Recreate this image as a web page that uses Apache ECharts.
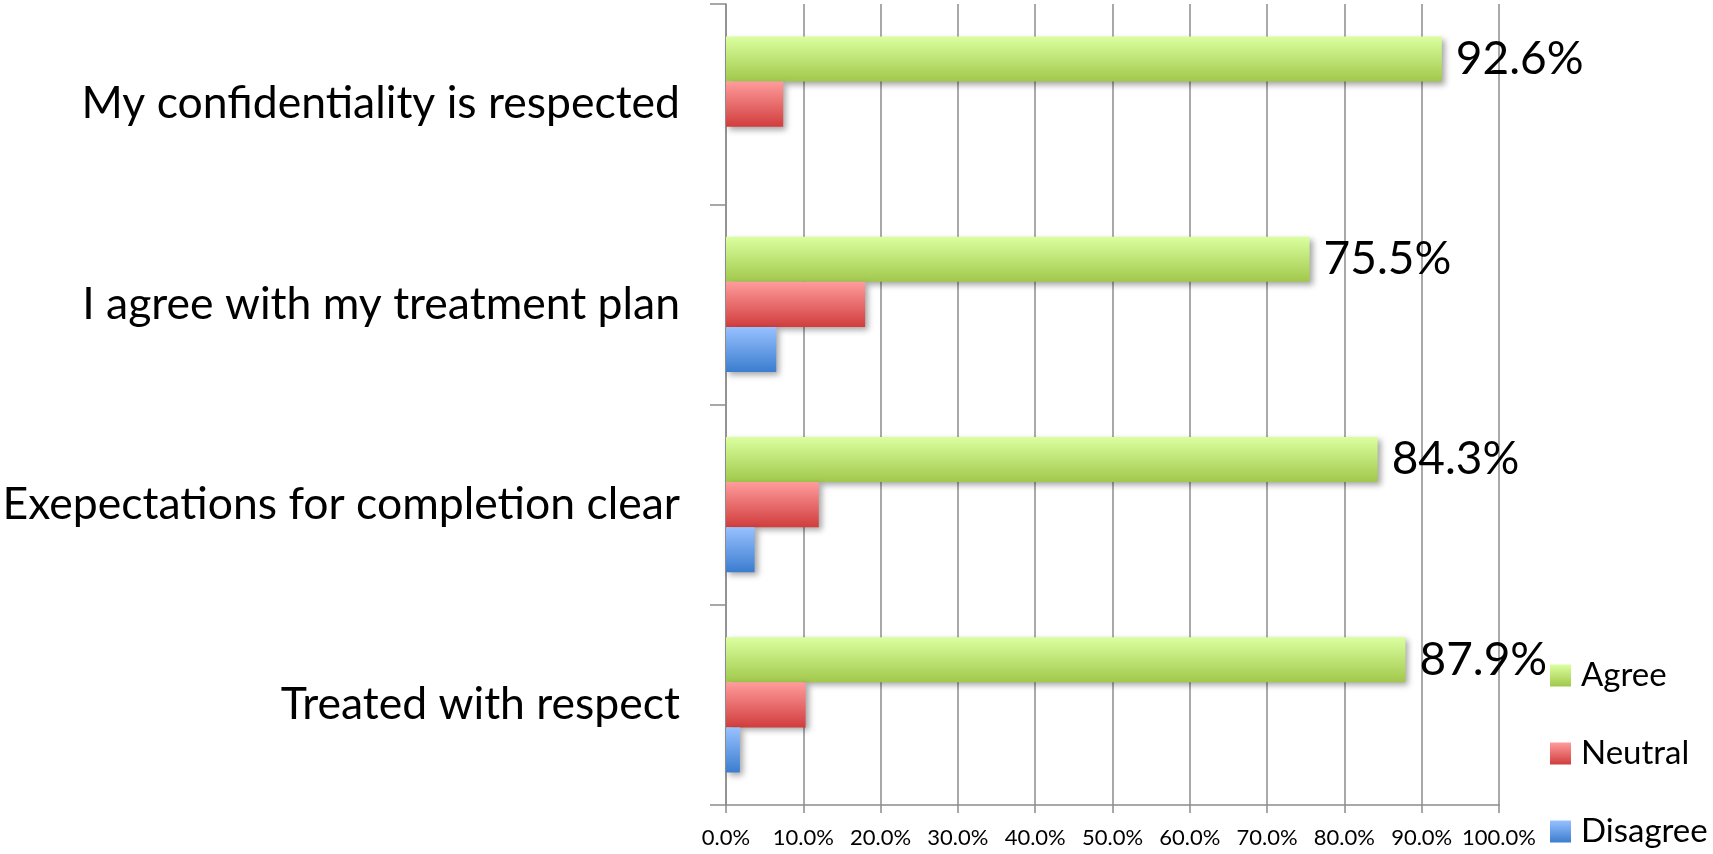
<!DOCTYPE html>
<html>
<head>
<meta charset="utf-8">
<script src="https://cdn.jsdelivr.net/npm/echarts@6/dist/echarts.min.js"></script>
<style>
html,body{margin:0;padding:0;background:#fff;}
#chart{width:1713px;height:854px;}
</style>
</head>
<body>
<div id="chart"></div>
<script>
const categories = ['Treated with respect', 'Exepectations for completion clear', 'I agree with my treatment plan', 'My confidentiality is respected'];
const agree = [87.9, 84.3, 75.5, 92.6];
const neutral = [10.3, 12.0, 18.0, 7.4];
const disagree = [1.8, 3.7, 6.5, 0];
const xTicks = [0, 10, 20, 30, 40, 50, 60, 70, 80, 90, 100];
const legendNames = ['Agree', 'Neutral', 'Disagree'];

const FONT = 'Lato';
function grad(top, bottom) {
  return new echarts.graphic.LinearGradient(0, 0, 0, 1, [
    {offset: 0, color: top}, {offset: 1, color: bottom}
  ]);
}
const shadow = {shadowBlur: 6, shadowOffsetX: 3, shadowOffsetY: 3, shadowColor: 'rgba(0,0,0,0.35)'};

const chart = echarts.init(document.getElementById('chart'));
chart.setOption({
  animation: false,
  backgroundColor: '#fff',
  textStyle: {fontFamily: FONT, color: '#000'},
  grid: {left: 726, right: 214, top: 4, bottom: 49, containLabel: false, outerBoundsMode: 'none'},
  legend: {
    data: legendNames,
    orient: 'vertical',
    left: 1550,
    top: 659,
    height: 195,
    padding: 0,
    icon: 'rect',
    itemWidth: 21,
    itemHeight: 22,
    itemGap: 45,
    textStyle: {fontFamily: FONT, fontSize: 33, color: '#000', padding: [0, 0, 0, 5]}
  },
  xAxis: {
    type: 'value',
    min: xTicks[0],
    max: xTicks[xTicks.length - 1],
    interval: 10,
    axisLine: {show: true, lineStyle: {color: '#8c8c8c', width: 1.5}},
    axisTick: {show: true, length: 8, lineStyle: {color: '#8c8c8c', width: 1.5}},
    splitLine: {show: true, lineStyle: {color: '#8c8c8c', width: 1.5}},
    axisLabel: {fontFamily: FONT, fontSize: 22, color: '#000', margin: 22,
      formatter: v => v.toFixed(1) + '%'}
  },
  yAxis: {
    type: 'category',
    data: categories,
    axisLine: {show: true, lineStyle: {color: '#8c8c8c', width: 1.5}},
    axisTick: {show: true, length: 16, lineStyle: {color: '#8c8c8c', width: 1.5}},
    splitLine: {show: false},
    axisLabel: {fontFamily: FONT, fontSize: 44.5, color: '#000', margin: 46}
  },
  series: [
    {name: 'Agree', type: 'bar', data: agree, barGap: '0%', barCategoryGap: '32.5%',
      itemStyle: Object.assign({color: grad('#dbffa0', '#a1c84b')}, shadow),
      label: {show: true, position: 'right', distance: 14, fontFamily: FONT, fontSize: 46, color: '#000',
        formatter: p => p.value.toFixed(1) + '%'}},
    {name: 'Neutral', type: 'bar', data: neutral, barGap: '0%', barCategoryGap: '32.5%',
      itemStyle: Object.assign({color: grad('#ff9c9c', '#d13d3d')}, shadow)},
    {name: 'Disagree', type: 'bar', data: disagree, barGap: '0%', barCategoryGap: '32.5%',
      itemStyle: Object.assign({color: grad('#98c1ff', '#3b7dcf')}, shadow)}
  ]
});
</script>
</body>
</html>
